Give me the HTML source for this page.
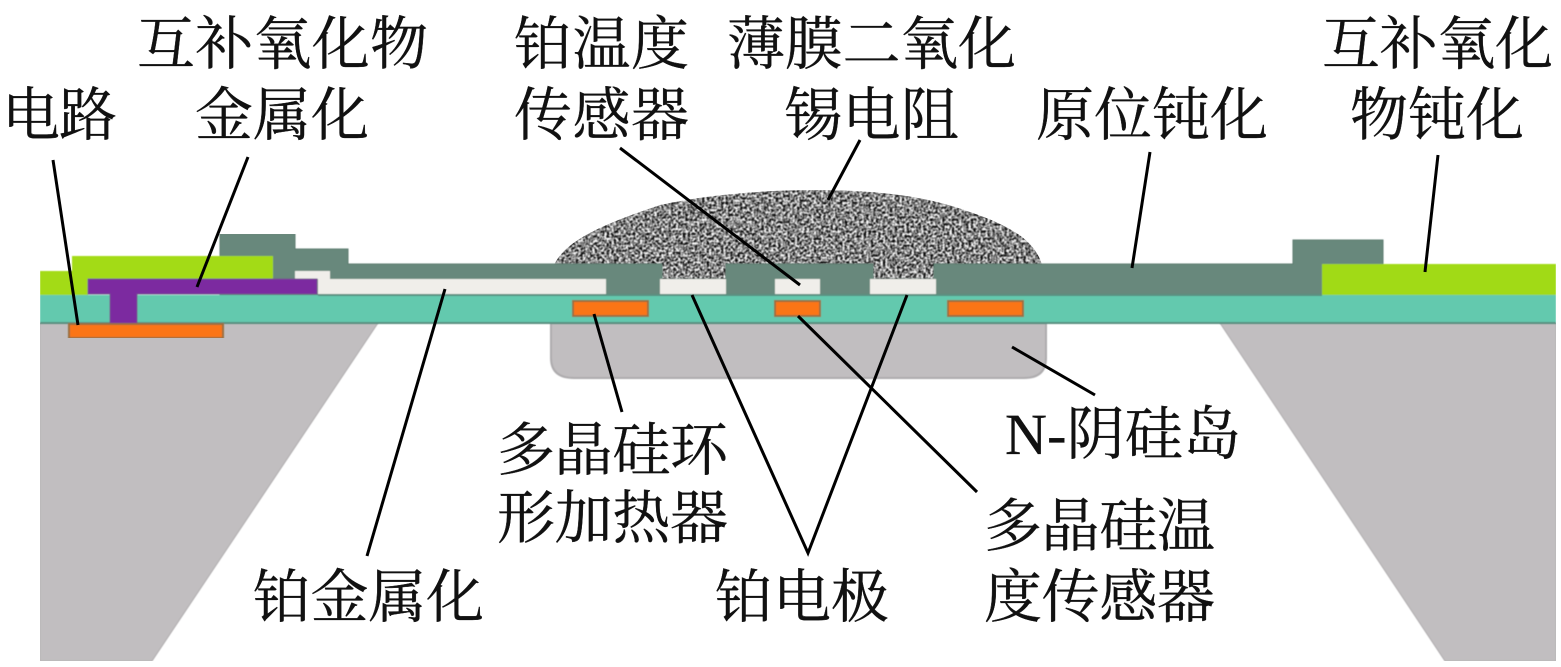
<!DOCTYPE html>
<html><head><meta charset="utf-8"><style>
html,body{margin:0;padding:0;background:#fff;width:1561px;height:667px;overflow:hidden}
svg{display:block}
text{font-family:"Liberation Serif","Noto Serif CJK SC",serif;font-size:58px;fill:#111;stroke:#111;stroke-width:.35}
</style></head><body>
<svg width="1561" height="667" viewBox="0 0 1561 667" xmlns="http://www.w3.org/2000/svg">
<defs>
<filter id="n" x="0" y="0" width="100%" height="100%" color-interpolation-filters="sRGB">
<feTurbulence type="fractalNoise" baseFrequency="0.42" numOctaves="2" seed="4"/>
<feColorMatrix type="matrix" values="2.6 0 0 0 -0.78  2.6 0 0 0 -0.78  2.6 0 0 0 -0.78  0 0 0 0 1"/>
<feGaussianBlur stdDeviation="0.5"/>
<feComposite in2="SourceGraphic" operator="in"/>
</filter>
<filter id="s" x="0" y="0" width="100%" height="100%"><feGaussianBlur stdDeviation="0.5"/></filter>
</defs>
<g filter="url(#s)">
<!-- substrate -->
<path d="M40 323H378L152 661H40Z" fill="#c1bec0" stroke="#b0adaf" stroke-width="1"/>
<path d="M1220 323H1556V661H1445Z" fill="#c1bec0" stroke="#b0adaf" stroke-width="1"/>
<path d="M551 323H1046V358Q1046 378 1024 378H574Q551 378 551 358Z" fill="#c1bec0" stroke="#adabad" stroke-width="2"/>
</g>
<!-- dome -->
<path d="M553 268C562 240 610 222 660 205C710 194 770 190 815 190C880 190 930 197 970 212C1010 226 1036 240 1043 268Z" fill="#888" filter="url(#n)"/>
<path d="M662 262H726V282H662ZM873 262H934V282H873Z" fill="#888" filter="url(#n)"/>
<g filter="url(#s)">
<!-- dark passivation -->
<path d="M220 234H295V249H348V264H662V279H726V264H873V279H934V264H1293V240H1383V295H220Z" fill="#68887c" stroke="#5d7c70" stroke-width="1"/>
<!-- green -->
<path d="M40 271H72V256H273V279H88V295H40Z" fill="#a3db14"/>
<rect x="1322" y="264" width="234" height="31" fill="#a1da14"/>
<!-- teal -->
<rect x="40" y="295" width="1516" height="28" fill="#64c9ae"/>
<path d="M318 295H1322M40 323H1556" stroke="#5a8f80" stroke-width="2" fill="none"/>
<!-- pt -->
<path d="M295 271H330V279H606V294H318V279H295Z" fill="#f0eeea"/>
<rect x="660" y="279" width="66" height="15" fill="#f0eeea"/>
<rect x="775" y="279" width="45" height="15" fill="#f0eeea"/>
<rect x="870" y="279" width="66" height="15" fill="#f0eeea"/>
<!-- purple -->
<path d="M88 279H317V294H137V324H110V294H88Z" fill="#7b2ca0" stroke="#74508e" stroke-width="1"/>
<!-- orange -->
<g fill="#fb7412" stroke="#9a7040" stroke-width="2">
<rect x="69" y="324" width="154" height="14"/>
<rect x="573" y="301" width="75" height="15"/>
<rect x="775" y="301" width="45" height="15"/>
<rect x="948" y="301" width="75" height="15"/>
</g>
</g>
<!-- leaders -->
<g stroke="#000" stroke-width="3" fill="none">
<path d="M53 160L78 325"/>
<path d="M248 157L197 287"/>
<path d="M620 148L800 285"/>
<path d="M860 140L828 200"/>
<path d="M1150 152L1132 268"/>
<path d="M1438 155L1425 272"/>
<path d="M445 289L367 556"/>
<path d="M594 314L622 412"/>
<path d="M692 295L808 553L907 295"/>
<path d="M798 316L977 492"/>
<path d="M1012 347L1095 395"/>
</g>
<!-- labels -->
<text x="137" y="64" textLength="291">互补氧化物</text>
<text x="2" y="135" textLength="115">电路</text>
<text x="195" y="135" textLength="174">金属化</text>
<text x="514" y="64" textLength="175">铂温度</text>
<text x="514" y="135" textLength="175">传感器</text>
<text x="727" y="64" textLength="289">薄膜二氧化</text>
<text x="784" y="135" textLength="175">锡电阻</text>
<text x="1036" y="135" textLength="232">原位钝化</text>
<text x="1322" y="64" textLength="231">互补氧化</text>
<text x="1350" y="135" textLength="174">物钝化</text>
<text x="497" y="470" textLength="231">多晶硅环</text>
<text x="497" y="538" textLength="231">形加热器</text>
<text x="1005" y="454" textLength="236">N-阴硅岛</text>
<text x="253" y="617" textLength="231">铂金属化</text>
<text x="715" y="617" textLength="174">铂电极</text>
<text x="984" y="546" textLength="231">多晶硅温</text>
<text x="984" y="617" textLength="231">度传感器</text>
</svg>
</body></html>
